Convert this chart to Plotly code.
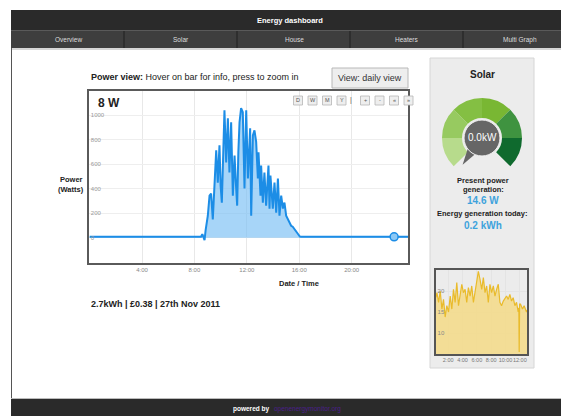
import math
import plotly.graph_objects as go

W, H = 561, 416

# ---------------- data ----------------
main_hours = [0.0, 2.0, 4.0, 6.0, 8.0, 8.5, 8.6, 8.7, 8.77, 8.85, 9.02, 9.15, 9.27, 9.4, 9.52,
              9.66, 9.78, 9.91, 10.0, 10.09, 10.2, 10.29, 10.42, 10.55, 10.67, 10.8, 10.93, 11.06,
              11.16, 11.26, 11.35, 11.44, 11.56, 11.69, 11.82, 11.95, 12.08, 12.17, 12.25, 12.33,
              12.46, 12.58, 12.71, 12.84, 12.89, 13.04, 13.09, 13.22, 13.34, 13.47, 13.65, 13.73,
              13.8, 13.98, 14.11, 14.24, 14.37, 14.49, 14.62, 14.75, 14.87, 15.0, 15.13, 15.25,
              15.38, 15.5, 15.63, 15.75, 15.89, 16.05, 16.15, 18.0, 20.0, 22.0, 24.3]
main_watts = [8, 8, 8, 8, 8, 8, 30, 8, -20, 60, 180, 344, 360, 150, 400,
              713, 450, 754, 420, 287, 700, 1041, 615, 976, 533, 943, 344, 672,
              450, 262, 700, 943, 1058, 1025, 402, 1041, 484, 760, 894, 180,
              836, 877, 782, 484, 697, 344, 590, 287, 533, 262, 590, 238,
              508, 238, 451, 205, 484, 180, 344, 238, 287, 180, 156, 123,
              98, 90, 74, 50, 33, 10, 8, 8, 8, 8, 8]
main_tick_hours = [4, 8, 12, 16, 20]
main_tick_labels = ["4:00", "8:00", "12:00", "16:00", "20:00"]
main_y_ticks = [0, 200, 400, 600, 800, 1000]
current_hour = [23.24]
current_watts = [8]

small_hours = [0.3, 0.43, 0.66, 0.89, 1.12, 1.35, 1.58, 1.81, 2.05, 2.28, 2.51, 2.74, 2.97, 3.2,
               3.44, 3.67, 3.9, 4.13, 4.36, 4.59, 4.82, 5.06, 5.29, 5.52, 5.75, 5.98, 6.21, 6.44,
               6.68, 6.91, 7.14, 7.37, 7.6, 7.83, 8.06, 8.3, 8.53, 8.76, 8.99, 9.22, 9.45, 9.69,
               9.92, 10.15, 10.38, 10.61, 10.84, 11.07, 11.31, 11.54, 11.77, 11.86, 11.91, 11.97,
               12.09, 12.37, 12.6, 12.93, 13.0]
small_values = [18.5, 19.6, 17.3, 20.0, 15.7, 18.0, 13.8, 16.5, 15.0, 18.8, 15.7, 20.4, 17.3, 22.0,
                16.5, 18.8, 21.6, 19.6, 20.4, 17.3, 20.8, 18.8, 21.2, 17.3, 20.0, 22.0, 24.7, 22.8,
                20.4, 23.2, 19.6, 21.2, 17.3, 21.6, 19.6, 21.2, 18.8, 20.4, 21.6, 17.3, 16.5, 17.6,
                18.4, 18.8, 18.0, 19.2, 17.6, 18.4, 16.5, 17.3, 15.0, 16.0, 5.5, 16.9,
                16.9, 15.7, 16.5, 15.0, 15.5]
small_tick_hours = [2, 4, 6, 8, 10, 12]
small_tick_labels = ["2:00", "4:00", "6:00", "8:00", "10:00", "12:00"]
small_y_ticks = [10, 15, 20]

gauge_parts = [1, 1, 1, 1, 1, 1, 2]
gauge_colors = ["#b7db8c", "#97ca60", "#84bf43", "#79b733", "#3f9340", "#0f6a2e", "rgba(0,0,0,0)"]

nav_items = ["Overview", "Solar", "House", "Heaters", "Multi Graph"]
range_buttons = ["D", "W", "M", "Y", "|", "+", "-", "«", "»"]

FONT = "Liberation Sans, Arial, sans-serif"


def X(px):
    return px / W


def Y(py):
    return 1 - py / H


fig = go.Figure()

# main area chart
fig.add_trace(go.Scatter(
    x=main_hours, y=main_watts, mode="lines", fill="tozeroy",
    line=dict(color="#1c8de6", width=2), fillcolor="rgba(120,190,245,0.65)",
    xaxis="x", yaxis="y", hoverinfo="skip", showlegend=False))
fig.add_trace(go.Scatter(
    x=current_hour, y=current_watts, mode="markers",
    marker=dict(size=8, color="#8cc8f5", line=dict(color="#1c8de6", width=1.5)),
    xaxis="x", yaxis="y", hoverinfo="skip", showlegend=False))

# small chart
fig.add_trace(go.Scatter(
    x=small_hours, y=small_values, mode="lines", fill="tozeroy",
    line=dict(color="#e9bb2c", width=1.2), fillcolor="rgba(244,218,135,0.85)",
    xaxis="x2", yaxis="y2", hoverinfo="skip", showlegend=False))

# gauge
gcx, gcy, gR = 482, 138, 40
fig.add_trace(go.Pie(
    values=gauge_parts, marker=dict(colors=gauge_colors, line=dict(width=0)),
    hole=0.5, sort=False, direction="clockwise", rotation=225,
    textinfo="none", hoverinfo="skip", showlegend=False,
    domain=dict(x=[X(gcx - gR), X(gcx + gR)], y=[Y(gcy + gR), Y(gcy - gR)])))

shapes = []
# header bars
shapes.append(dict(type="rect", xref="paper", yref="paper", x0=X(11), x1=1, y0=Y(30), y1=Y(10),
                   fillcolor="#2a2a2a", line=dict(width=0), layer="below"))
shapes.append(dict(type="rect", xref="paper", yref="paper", x0=X(11), x1=1, y0=Y(48), y1=Y(30),
                   fillcolor="#3e3e3e", line=dict(width=0), layer="below"))
shapes.append(dict(type="line", xref="paper", yref="paper", x0=X(11), x1=1, y0=Y(30.5), y1=Y(30.5),
                   line=dict(color="#5a5a5a", width=1), layer="below"))
shapes.append(dict(type="line", xref="paper", yref="paper", x0=X(11), x1=1, y0=Y(49), y1=Y(49),
                   line=dict(color="#c8c8c8", width=1.5), layer="below"))
for sx in [124, 237, 350, 463]:
    shapes.append(dict(type="line", xref="paper", yref="paper", x0=X(sx), x1=X(sx), y0=Y(48), y1=Y(31),
                       line=dict(color="#1e1e1e", width=1), layer="below"))
# left border
shapes.append(dict(type="line", xref="paper", yref="paper", x0=X(11.5), x1=X(11.5), y0=Y(399), y1=Y(48),
                   line=dict(color="#555", width=1), layer="below"))
# bottom bar
shapes.append(dict(type="rect", xref="paper", yref="paper", x0=X(11), x1=1, y0=0, y1=Y(399),
                   fillcolor="#2a2a2a", line=dict(width=0), layer="below"))
shapes.append(dict(type="line", xref="paper", yref="paper", x0=X(11), x1=1, y0=Y(398.5), y1=Y(398.5),
                   line=dict(color="#bbb", width=1), layer="below"))
# right panel
shapes.append(dict(type="rect", xref="paper", yref="paper", x0=X(430), x1=X(534), y0=Y(368), y1=Y(58),
                   fillcolor="#ececec", line=dict(color="#d6d6d6", width=1), layer="below"))
# view button
shapes.append(dict(type="rect", xref="paper", yref="paper", x0=X(332), x1=X(408), y0=Y(88), y1=Y(68),
                   fillcolor="#eeeeee", line=dict(color="#b8b8b8", width=1), layer="below"))
# range buttons inside main chart
bx = 298
for lab in range_buttons:
    if lab == "|":
        bx += 9
        continue
    shapes.append(dict(type="rect", xref="paper", yref="paper", x0=X(bx - 4.5), x1=X(bx + 4.5),
                       y0=Y(105), y1=Y(96), fillcolor="#eeeeee",
                       line=dict(color="#b5b5b5", width=0.8), layer="above"))
    bx += 14.5


# gauge centre and pointer
def gpt(r, deg):
    a = math.radians(deg)
    return gcx + r * math.sin(a), gcy - r * math.cos(a)


p1 = gpt(16, 200)
p2 = gpt(33, 216)
p3 = gpt(16, 238)
path = "M {:.4f},{:.4f} L {:.4f},{:.4f} L {:.4f},{:.4f} Z".format(
    X(p1[0]), Y(p1[1]), X(p2[0]), Y(p2[1]), X(p3[0]), Y(p3[1]))
shapes.append(dict(type="path", xref="paper", yref="paper", path=path,
                   fillcolor="#666666", line=dict(width=0), layer="above"))
gr = 18
shapes.append(dict(type="circle", xref="paper", yref="paper", x0=X(gcx - gr), x1=X(gcx + gr),
                   y0=Y(gcy + gr), y1=Y(gcy - gr), fillcolor="#666666",
                   line=dict(color="#f2f2f2", width=1), layer="above"))

annotations = []


def txt(s, x, y, size=8, color="#222", xanchor="center", bold=False):
    annotations.append(dict(text=("<b>%s</b>" % s) if bold else s, x=X(x), y=Y(y),
                            xref="paper", yref="paper", xanchor=xanchor, yanchor="middle",
                            showarrow=False, font=dict(family=FONT, size=size, color=color)))


txt("Energy dashboard", 290, 20, 7.5, "#ffffff", bold=True)
for i, item in enumerate(nav_items):
    txt(item, 68 + i * 113, 39.5, 6.5, "#dddddd")
txt("<b>Power view:</b> Hover on bar for info, press to zoom in", 89, 77, 9, "#222", "left")
txt("View: daily view", 370, 78, 9, "#333")
txt("8 W", 96, 103, 12, "#222", "left", bold=True)
bx = 298
for lab in range_buttons:
    if lab == "|":
        txt("|", bx - 5, 100.5, 7, "#555")
        bx += 9
        continue
    txt(lab, bx, 100.5, 5.5, "#555")
    bx += 14.5
txt("Power", 71, 179, 7.5, "#222", bold=True)
txt("(Watts)", 71, 189, 7.5, "#222", bold=True)
txt("Date / Time", 299, 283, 7.5, "#222", bold=True)
txt("2.7kWh | £0.38 | 27th Nov 2011", 89, 304, 9, "#222", "left", bold=True)
txt("Solar", 482, 74, 10, "#222", bold=True)
txt("0.0kW", gcx, gcy, 10, "#ffffff")
txt("Present power", 483, 180.5, 7.5, "#222", bold=True)
txt("generation:", 483, 190, 7.5, "#222", bold=True)
txt("14.6 W", 483, 200, 10, "#3ea3dc", bold=True)
txt("Energy generation today:", 482, 213.5, 7.5, "#222", bold=True)
txt("0.2 kWh", 483, 226, 10, "#3ea3dc", bold=True)
txt("powered by", 251, 408.5, 6.5, "#ffffff", bold=True)
txt("openenergymonitor.org", 272, 408.5, 6.5, "#4b1f8a", "left")

fig.update_layout(
    width=W, height=H, margin=dict(l=0, r=0, t=0, b=0),
    paper_bgcolor="#ffffff", plot_bgcolor="#ffffff",
    font=dict(family=FONT),
    shapes=shapes, annotations=annotations,
    xaxis=dict(domain=[X(89), X(408)], range=[-0.05, 24.3],
               tickvals=main_tick_hours, ticktext=main_tick_labels,
               tickfont=dict(size=6, color="#888"), ticks="",
               showgrid=True, gridcolor="#e8e8e8", zeroline=False,
               showline=True, mirror=True, linecolor="#5a5a5a", linewidth=2,
               fixedrange=True),
    yaxis=dict(domain=[Y(263), Y(91)], range=[-206, 1198],
               tickvals=main_y_ticks, ticklabelposition="inside",
               tickfont=dict(size=6, color="#999"), ticks="",
               showgrid=True, gridcolor="#eeeeee", zeroline=False,
               showline=True, mirror=True, linecolor="#5a5a5a", linewidth=2,
               fixedrange=True),
    xaxis2=dict(domain=[X(436), X(527)], range=[0.3, 13.0], anchor="y2",
                tickvals=small_tick_hours, ticktext=small_tick_labels, tickangle=0,
                tickfont=dict(size=5.5, color="#777"), ticks="",
                showgrid=True, gridcolor="#e4e4e4", zeroline=False,
                showline=True, mirror=True, linecolor="#555", linewidth=1.5,
                fixedrange=True),
    yaxis2=dict(domain=[Y(354), Y(270)], range=[5, 25], anchor="x2",
                tickvals=small_y_ticks, ticklabelposition="inside",
                tickfont=dict(size=6, color="#888"), ticks="",
                showgrid=True, gridcolor="#e4e4e4", zeroline=False,
                showline=True, mirror=True, linecolor="#555", linewidth=1.5,
                fixedrange=True),
)

fig.write_html("out.html", config={"displayModeBar": False},
               post_script="document.body.style.margin='0px';document.body.style.overflow='hidden';")
